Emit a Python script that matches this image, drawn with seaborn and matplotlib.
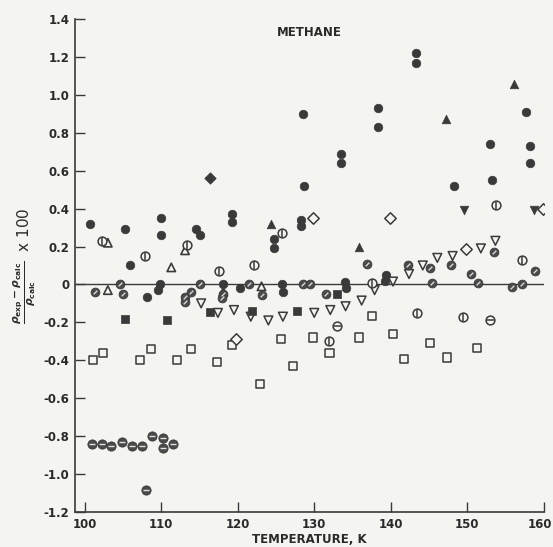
import matplotlib
matplotlib.use('Agg')
import matplotlib.pyplot as plt
import seaborn as sns
from matplotlib.markers import MarkerStyle
from matplotlib.transforms import Affine2D, ScaledTranslation

# datos (T en K, desviacion en %)
t_lleno = [100.7, 105.3, 109.9, 109.9, 119.2, 119.2, 114.5, 115.0, 105.9, 128.5,
           138.3, 138.3, 133.5, 133.5, 128.6, 128.3, 128.3, 124.8, 124.8, 143.3,
           143.3, 157.7, 153.0, 158.2, 158.2, 148.3, 153.2, 109.6, 109.8, 108.1,
           120.3, 125.8, 125.9, 134.0, 134.2, 139.2, 139.4, 118.0]
d_lleno = [0.32, 0.29, 0.35, 0.26, 0.37, 0.33, 0.29, 0.26, 0.10, 0.90,
           0.93, 0.83, 0.69, 0.64, 0.52, 0.34, 0.31, 0.24, 0.19, 1.22,
           1.17, 0.91, 0.74, 0.73, 0.64, 0.52, 0.55, -0.03, 0.0, -0.065,
           -0.02, 0.0, -0.04, 0.015, -0.02, 0.02, 0.05, 0.0]

t_tri_lleno = [124.3, 135.9, 156.1, 147.3]
d_tri_lleno = [0.32, 0.20, 1.055, 0.87]

t_tri_inv_lleno = [149.6, 158.7]
d_tri_inv_lleno = [0.39, 0.39]

t_rombo_lleno = [116.3]
d_rombo_lleno = [0.56]

t_cuad_lleno = [105.2, 110.8, 116.3, 121.9, 127.8, 133.0]
d_cuad_lleno = [-0.18, -0.19, -0.145, -0.14, -0.14, -0.05]

t_cuad = [101.0, 102.4, 107.2, 108.6, 112.0, 113.9, 117.3, 119.2, 122.9, 125.6,
          127.2, 129.8, 132.0, 135.9, 137.6, 140.3, 141.8, 145.1, 147.4, 151.3]
d_cuad = [-0.40, -0.36, -0.40, -0.34, -0.40, -0.34, -0.41, -0.32, -0.525, -0.29,
          -0.43, -0.28, -0.36, -0.28, -0.165, -0.26, -0.395, -0.31, -0.385, -0.335]

t_tri_inv = [115.2, 117.4, 119.5, 121.7, 124.0, 125.9, 130.0, 132.1, 134.1, 136.2,
             137.9, 140.3, 142.4, 144.2, 146.1, 148.1, 151.8, 153.7]
d_tri_inv = [-0.10, -0.15, -0.135, -0.17, -0.19, -0.17, -0.15, -0.135, -0.115, -0.085,
             -0.03, 0.015, 0.055, 0.10, 0.14, 0.15, 0.19, 0.23]

t_tri = [103.0, 111.3, 113.1, 103.0, 123.1, 118.1]
d_tri = [0.22, 0.09, 0.18, -0.03, -0.01, -0.04]

t_rombo = [119.8, 129.9, 139.9, 149.9, 159.9]
d_rombo = [-0.29, 0.35, 0.35, 0.185, 0.40]

t_phi = [102.2, 107.9, 113.4, 117.6, 125.8, 122.1, 153.8, 157.2, 137.5, 143.4, 149.5, 131.9]
d_phi = [0.23, 0.15, 0.21, 0.07, 0.27, 0.10, 0.42, 0.13, 0.01, -0.15, -0.17, -0.30]

t_theta = [133.0, 153.0]
d_theta = [-0.22, -0.185]

t_medio = [101.3, 104.6, 105.0, 113.1, 113.1, 113.9, 115.0, 118.1, 117.9, 121.5,
           123.2, 128.5, 129.4, 131.5, 136.9, 142.3, 145.1, 147.9, 150.5, 153.5,
           158.9, 145.4, 151.4, 155.9, 157.2]
d_medio = [-0.04, 0.0, -0.05, -0.065, -0.09, -0.04, 0.0, -0.05, -0.07, 0.0,
           -0.055, 0.0, 0.0, -0.05, 0.11, 0.10, 0.085, 0.10, 0.055, 0.17,
           0.07, 0.01, 0.01, -0.015, 0.0]

t_bajo = [100.9, 102.2, 103.4, 104.8, 106.2, 107.5, 108.8, 110.2, 110.2, 111.5, 108.0]
d_bajo = [-0.84, -0.84, -0.85, -0.83, -0.85, -0.85, -0.80, -0.81, -0.86, -0.84, -1.085]

xticks = [100, 110, 120, 130, 140, 150, 160]
yticks = [-1.2, -1.0, -0.8, -0.6, -0.4, -0.2, 0, 0.2, 0.4, 0.6, 0.8, 1.0, 1.2, 1.4]

fondo = '#f4f4f1'
tinta = '#3a3a3a'

sns.set_style('ticks')
plt.rcParams['font.family'] = ['DejaVu Sans']
plt.rcParams['font.weight'] = 'bold'

fig = plt.figure(figsize=(5.53, 5.47), dpi=100, facecolor=fondo)
ax = fig.add_axes([0.1356, 0.064, 0.848, 0.9013])
ax.set_facecolor(fondo)

ax.axhline(0, color=tinta, lw=1.0, zorder=1)

# simbolos llenos
sns.scatterplot(x=t_lleno, y=d_lleno, marker='o', s=38, facecolor=tinta, edgecolor=tinta, linewidth=0.5, ax=ax, zorder=3)
sns.scatterplot(x=t_tri_lleno, y=d_tri_lleno, marker='^', s=38, facecolor=tinta, edgecolor=tinta, linewidth=0.5, ax=ax, zorder=3)
sns.scatterplot(x=t_tri_inv_lleno, y=d_tri_inv_lleno, marker='v', s=38, facecolor=tinta, edgecolor=tinta, linewidth=0.5, ax=ax, zorder=3)
sns.scatterplot(x=t_rombo_lleno, y=d_rombo_lleno, marker='D', s=34, facecolor=tinta, edgecolor=tinta, linewidth=0.5, ax=ax, zorder=3)
sns.scatterplot(x=t_cuad_lleno, y=d_cuad_lleno, marker='s', s=34, facecolor=tinta, edgecolor=tinta, linewidth=0.5, ax=ax, zorder=3)

# simbolos abiertos
sns.scatterplot(x=t_cuad, y=d_cuad, marker='s', s=34, facecolor='none', edgecolor=tinta, linewidth=1.1, ax=ax, zorder=3)
sns.scatterplot(x=t_tri_inv, y=d_tri_inv, marker='v', s=40, facecolor='none', edgecolor=tinta, linewidth=1.1, ax=ax, zorder=3)
sns.scatterplot(x=t_tri, y=d_tri, marker='^', s=36, facecolor='none', edgecolor=tinta, linewidth=1.2, ax=ax, zorder=3)
sns.scatterplot(x=t_rombo, y=d_rombo, marker='D', s=34, facecolor=fondo, edgecolor=tinta, linewidth=1.1, ax=ax, zorder=3)

# circulos con barra
sns.scatterplot(x=t_phi, y=d_phi, marker='o', s=40, facecolor=fondo, edgecolor=tinta, linewidth=1.1, ax=ax, zorder=3)
sns.scatterplot(x=t_phi, y=d_phi, marker='|', s=40, color=tinta, linewidth=1.1, ax=ax, zorder=4)
sns.scatterplot(x=t_theta, y=d_theta, marker='o', s=40, facecolor=fondo, edgecolor=tinta, linewidth=1.1, ax=ax, zorder=3)
sns.scatterplot(x=t_theta, y=d_theta, marker='_', s=40, color=tinta, linewidth=1.1, ax=ax, zorder=4)

# circulos sombreados
diag = MarkerStyle('_', transform=Affine2D().rotate_deg(45))
sns.scatterplot(x=t_medio, y=d_medio, marker='o', s=40, facecolor='#4a4a4a', edgecolor=tinta, linewidth=0.6, ax=ax, zorder=3)
sns.scatterplot(x=t_medio, y=d_medio, marker=diag, s=14, color='#d8d8d8', linewidth=1.0, ax=ax, zorder=4)
sns.scatterplot(x=t_bajo, y=d_bajo, marker='o', s=44, facecolor='#4a4a4a', edgecolor=tinta, linewidth=0.6, ax=ax, zorder=3)
sns.scatterplot(x=t_bajo, y=d_bajo, marker='_', s=22, color='#e0e0e0', linewidth=1.0, ax=ax, zorder=4)

ax.set_xlim(98.7, 160.05)
ax.set_ylim(-1.2, 1.4)
ax.set_xticks(xticks)
ax.set_yticks(yticks)
ax.set_yticklabels(['0' if v == 0 else f'{v:.1f}' for v in yticks])
ax.tick_params(direction='in', length=7, width=1, color=tinta, labelsize=8.5, labelcolor='#2a2a2a', pad=4)
for lado in ['top', 'right']:
    ax.spines[lado].set_visible(False)
for lado in ['left', 'bottom']:
    ax.spines[lado].set_color(tinta)
    ax.spines[lado].set_linewidth(1.2)

# el ultimo rotulo del eje x queda pegado al borde
ultimo = ax.get_xticklabels()[-1]
ultimo.set_transform(ultimo.get_transform() + ScaledTranslation(-4 / 100, 0, fig.dpi_scale_trans))

ax.text(129.4, 1.33, 'METHANE', ha='center', va='center', fontsize=8.5, fontweight='bold', color='#2a2a2a')
ax.set_xlabel('TEMPERATURE, K', fontsize=8.5, fontweight='bold', color='#2a2a2a', labelpad=2)
ax.set_ylabel(r'$\frac{\rho_{\mathrm{exp}}-\rho_{\mathrm{calc}}}{\rho_{\mathrm{calc}}}$  x 100',
              fontsize=11, color='#2a2a2a', labelpad=4)

fig.savefig('out.png', dpi=100, facecolor=fondo)
